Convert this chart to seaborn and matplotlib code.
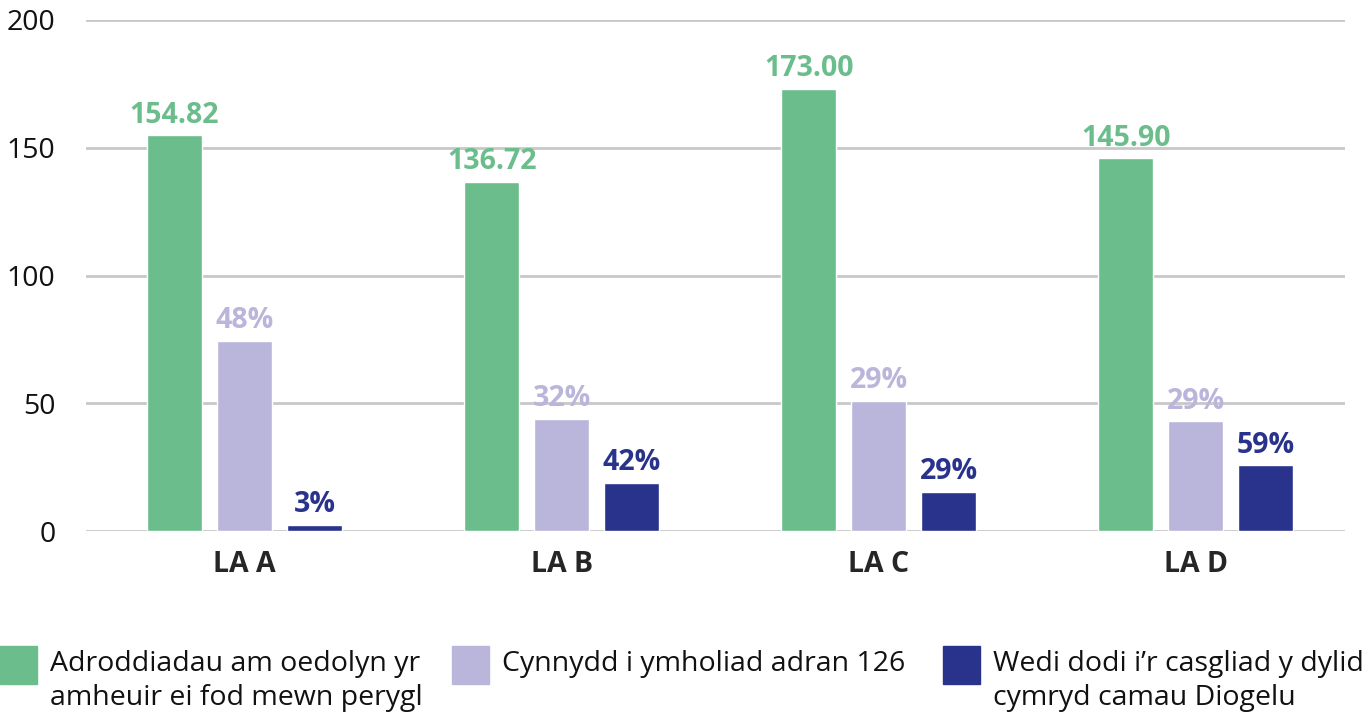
import matplotlib
matplotlib.use("Agg")
import matplotlib.pyplot as plt
import seaborn as sns
import pandas as pd
from matplotlib.patches import Rectangle

authorities = ["LA A", "LA B", "LA C", "LA D"]
series_names = [
    "Adroddiadau am oedolyn yr\namheuir ei fod mewn perygl",
    "Cynnydd i ymholiad adran 126",
    "Wedi dodi i’r casgliad y dylid\ncymryd camau Diogelu",
]
reports = [154.82, 136.72, 173.00, 145.90]
enquiries = [74.5, 44.0, 51.0, 43.0]
safeguarding = [2.5, 18.8, 15.3, 25.8]
report_labels = ["154.82", "136.72", "173.00", "145.90"]
enquiry_labels = ["48%", "32%", "29%", "29%"]
safeguarding_labels = ["3%", "42%", "29%", "59%"]
colours = ["#6bbd8c", "#bab5da", "#29338c"]

rows = []
for name, vals in zip(series_names, [reports, enquiries, safeguarding]):
    for la, v in zip(authorities, vals):
        rows.append({"LA": la, "series": name, "value": v})
df = pd.DataFrame(rows)

sns.set_style("white")
plt.rcParams["font.family"] = ["Open Sans", "DejaVu Sans"]

fig = plt.figure(figsize=(13.64, 7.22), dpi=100)
ax = fig.add_axes([86 / 1364, 1 - 531 / 722, 1259 / 1364, 511 / 722])

sns.barplot(data=df, x="LA", y="value", hue="series", hue_order=series_names,
            palette=colours, saturation=1, width=0.662, gap=0.214,
            legend=False, ax=ax)

for cont, labs, col in zip(ax.containers,
                           [report_labels, enquiry_labels, safeguarding_labels],
                           colours):
    ax.bar_label(cont, labels=labs, padding=4, color=col,
                 fontsize=20.5, fontweight="bold")

ax.set_ylim(0, 200)
ax.set_xlim(-0.5, 3.47)
ax.set_yticks([0, 50, 100, 150, 200])
ax.yaxis.grid(True, color="#c8c8c8", linewidth=2)
ax.set_axisbelow(True)
for s in ax.spines.values():
    s.set_visible(False)
ax.tick_params(axis="y", length=0, pad=22, labelsize=20.5, labelcolor="#111111")
ax.tick_params(axis="x", length=0, pad=14, labelsize=20.5)
for t in ax.get_xticklabels():
    t.set_fontweight("bold")
ax.set_xlabel("")
ax.set_ylabel("")

# legend drawn by hand so the swatch lines up with the first text line
legend_x = [0, 452, 943]
for x, name, col in zip(legend_x, series_names, colours):
    fig.add_artist(Rectangle((x / 1364, 1 - 684 / 722), 37 / 1364, 38 / 722,
                             transform=fig.transFigure, color=col))
    fig.text((x + 50) / 1364, 1 - 650 / 722, name, fontsize=20.5,
             va="top", ha="left", color="#111111", linespacing=1.3)

fig.savefig("out.png", dpi=100)
